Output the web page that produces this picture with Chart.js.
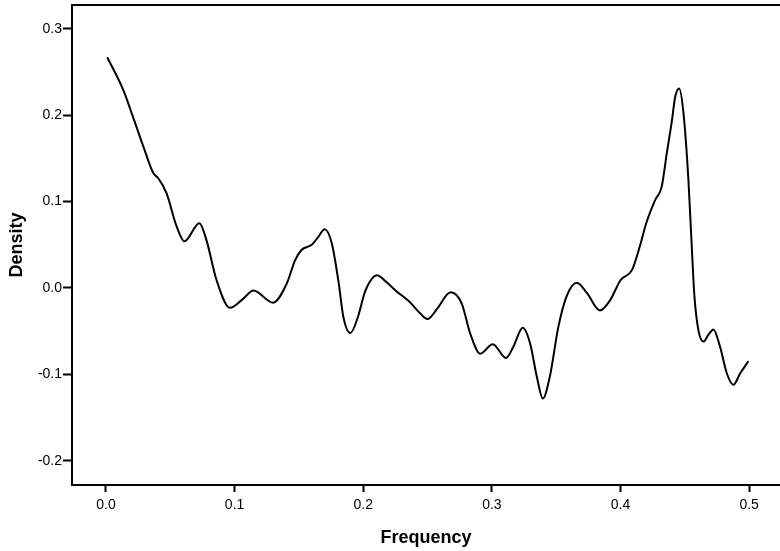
<!DOCTYPE html>
<html>
<head>
<meta charset="utf-8">
<script src="https://cdn.jsdelivr.net/npm/chart.js@4"></script>
<style>
  html, body { margin: 0; padding: 0; background: #fff; }
  #wrap { width: 780px; height: 551px; }
</style>
</head>
<body>
<div id="wrap"><canvas id="spec"></canvas></div>
<script>
// spectral density estimate
const freq = [0.001, 0.0135, 0.021, 0.029, 0.0368, 0.0407, 0.047, 0.055, 0.061, 0.0726,
  0.078, 0.086, 0.0964, 0.107, 0.1146, 0.130, 0.1405, 0.147, 0.152, 0.160,
  0.165, 0.170, 0.1755, 0.181, 0.1845, 0.190, 0.196, 0.201, 0.205, 0.2105,
  0.218, 0.226, 0.236, 0.244, 0.250, 0.257, 0.268, 0.2766, 0.283, 0.291,
  0.3007, 0.311, 0.3167, 0.324, 0.3297, 0.335, 0.3396, 0.345, 0.3517, 0.358,
  0.366, 0.374, 0.384, 0.392, 0.400, 0.409, 0.415, 0.420, 0.427, 0.432,
  0.436, 0.440, 0.4425, 0.4456, 0.449, 0.4528, 0.4554, 0.4575, 0.4606, 0.4645,
  0.4684, 0.4722, 0.4774, 0.4827, 0.4878, 0.493, 0.4995];
const density = [0.267, 0.229, 0.198, 0.164, 0.133, 0.127, 0.110, 0.071, 0.054, 0.075,
  0.056, 0.009, -0.023, -0.012, -0.003, -0.017, 0.005, 0.032, 0.044, 0.050,
  0.059, 0.068, 0.052, 0.005, -0.033, -0.052, -0.033, -0.006, 0.007, 0.0147,
  0.007, -0.004, -0.016, -0.029, -0.036, -0.025, -0.005, -0.018, -0.052, -0.076,
  -0.065, -0.081, -0.068, -0.046, -0.064, -0.103, -0.128, -0.103, -0.045, -0.010,
  0.006, -0.006, -0.026, -0.014, 0.009, 0.021, 0.048, 0.075, 0.102, 0.117,
  0.156, 0.194, 0.221, 0.231, 0.202, 0.125, 0.048, -0.010, -0.049, -0.062,
  -0.054, -0.048, -0.068, -0.099, -0.112, -0.099, -0.0845];
const xTicks = [0.0, 0.1, 0.2, 0.3, 0.4, 0.5];
const yTicks = [-0.2, -0.1, 0.0, 0.1, 0.2, 0.3];

Chart.defaults.font.family = "'Liberation Sans', Arial, sans-serif";
Chart.defaults.color = "#000";

// top frame line (the box has no right side inside the canvas)
const topLine = {
  id: "topLine",
  afterDraw(chart) {
    const ctx = chart.ctx, a = chart.chartArea;
    ctx.save();
    ctx.strokeStyle = "#000";
    ctx.lineWidth = 2;
    ctx.beginPath();
    ctx.moveTo(a.left, a.top);
    ctx.lineTo(a.right, a.top);
    ctx.stroke();
    ctx.restore();
  }
};

new Chart(document.getElementById("spec"), {
  type: "line",
  data: {
    datasets: [{
      data: freq.map((f, i) => ({ x: f, y: density[i] })),
      borderColor: "#000",
      borderWidth: 2,
      pointRadius: 0,
      cubicInterpolationMode: "monotone",
      fill: false
    }]
  },
  options: {
    responsive: true,
    maintainAspectRatio: false,
    animation: false,
    layout: { padding: { top: 5, right: 0, left: 0, bottom: 0 } },
    plugins: { legend: { display: false }, tooltip: { enabled: false } },
    scales: {
      x: {
        type: "linear",
        min: -0.0264,
        max: 0.524,
        afterBuildTicks: s => { s.ticks = xTicks.map(v => ({ value: v })); },
        afterFit: s => { s.height = 66; s.paddingLeft = 0; s.paddingRight = 0; },
        ticks: { font: { size: 14 }, padding: 5, callback: v => v.toFixed(1) },
        grid: { drawOnChartArea: false, drawTicks: true, tickLength: 7, tickWidth: 2, color: "#000" },
        border: { display: true, color: "#000", width: 2 },
        title: { display: true, text: "Frequency", font: { size: 18, weight: "bold" }, padding: { top: 4, bottom: 2 } }
      },
      y: {
        min: -0.228,
        max: 0.3275,
        afterBuildTicks: s => { s.ticks = yTicks.map(v => ({ value: v })); },
        afterFit: s => { s.width = 72; s.paddingTop = 0; s.paddingBottom = 0; },
        ticks: { font: { size: 14 }, padding: 1, callback: v => v.toFixed(1) },
        grid: { drawOnChartArea: false, drawTicks: true, tickLength: 9, tickWidth: 2, color: "#000" },
        border: { display: true, color: "#000", width: 2 },
        title: { display: true, text: "Density", font: { size: 18, weight: "bold" }, padding: { top: 6, bottom: 0 } }
      }
    }
  },
  plugins: [topLine]
});
</script>
</body>
</html>
